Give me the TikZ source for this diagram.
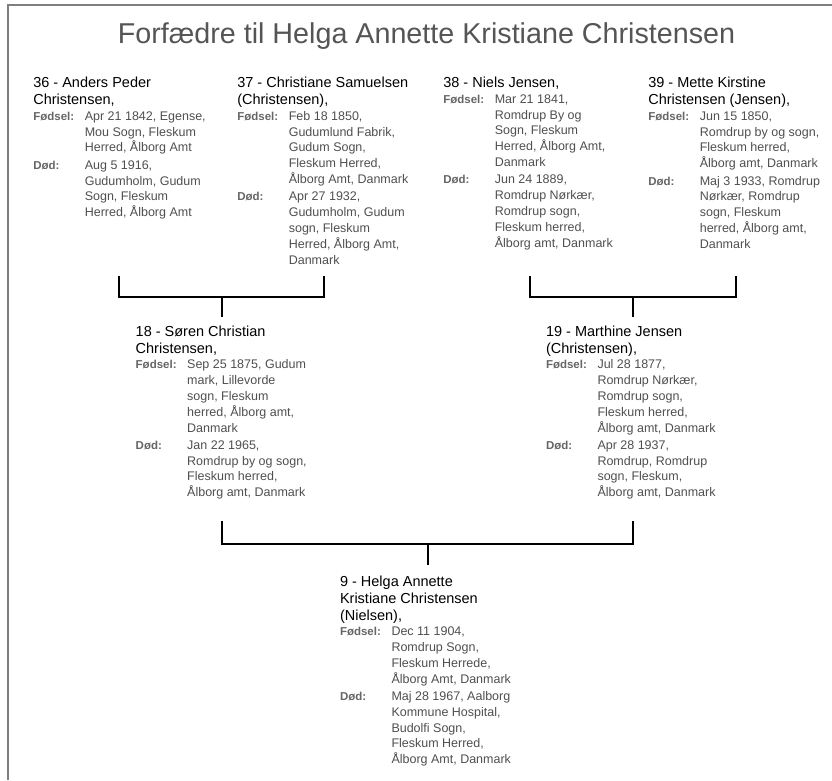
\documentclass[tikz,border=0pt]{standalone}
\usepackage{fontspec}
\setmainfont{Liberation Sans}
\definecolor{valgray}{HTML}{4F4F4F}
\definecolor{labgray}{HTML}{666666}
\definecolor{titlegray}{HTML}{555555}
\definecolor{framegray}{HTML}{7F7F7F}
\newcommand{\nm}[1]{\multicolumn{2}{@{}l@{}}{\fontsize{14.5}{15.8}\selectfont\color{black}#1}}
\newcommand{\lab}[1]{\makebox[51.5pt][l]{\fontsize{11.5}{15.8}\selectfont\bfseries\color{labgray}#1}}
\tikzset{
  person/.style={inner sep=0pt, outer sep=0pt, anchor=base west, text=valgray,
    font=\fontsize{12.5}{15.8}\selectfont},
  titletext/.style={inner sep=0pt, anchor=base, text=titlegray,
    font=\fontsize{28.7}{32}\selectfont},
  bracket/.style={line width=1.8pt, black},
  framerule/.style={line width=1.4pt, framegray}
}
\begin{document}
\begin{tikzpicture}[x=1pt,y=-1pt]
\useasboundingbox (0,0) rectangle (832,780);
% frame
\coordinate (fl) at (7.8,780);
\coordinate (fc) at (7.8,4.8);
\coordinate (fr) at (832,4.8);
\draw[framerule] (fl) -- (fc) -- (fr);
% title
\node[titletext] (title) at (426.5,43.5) {Forfædre til Helga Annette Kristiane Christensen};
% generation 3
\node[person] (p36) at (33.3,87.5) {\begin{tabular}[t]{@{}l@{}l@{}}
\nm{36 - Anders Peder}\\[1.2pt]
\nm{Christensen,}\\
\lab{Fødsel:} & Apr 21 1842, Egense,\\
 & Mou Sogn, Fleskum\\
 & Herred, Ålborg Amt\\[1.5pt]
\lab{Død:} & Aug 5 1916,\\
 & Gudumholm, Gudum\\
 & Sogn, Fleskum\\
 & Herred, Ålborg Amt
\end{tabular}};
\node[person] (p37) at (237.3,87.5) {\begin{tabular}[t]{@{}l@{}l@{}}
\nm{37 - Christiane Samuelsen}\\[1.2pt]
\nm{(Christensen),}\\
\lab{Fødsel:} & Feb 18 1850,\\
 & Gudumlund Fabrik,\\
 & Gudum Sogn,\\
 & Fleskum Herred,\\
 & Ålborg Amt, Danmark\\[1.5pt]
\lab{Død:} & Apr 27 1932,\\
 & Gudumholm, Gudum\\
 & sogn, Fleskum\\
 & Herred, Ålborg Amt,\\
 & Danmark
\end{tabular}};
\node[person] (p38) at (443.3,87.5) {\begin{tabular}[t]{@{}l@{}l@{}}
\nm{38 - Niels Jensen,}\\
\lab{Fødsel:} & Mar 21 1841,\\
 & Romdrup By og\\
 & Sogn, Fleskum\\
 & Herred, Ålborg Amt,\\
 & Danmark\\[1.5pt]
\lab{Død:} & Jun 24 1889,\\
 & Romdrup Nørkær,\\
 & Romdrup sogn,\\
 & Fleskum herred,\\
 & Ålborg amt, Danmark
\end{tabular}};
\node[person] (p39) at (648.3,87.5) {\begin{tabular}[t]{@{}l@{}l@{}}
\nm{39 - Mette Kirstine}\\[1.2pt]
\nm{Christensen (Jensen),}\\
\lab{Fødsel:} & Jun 15 1850,\\
 & Romdrup by og sogn,\\
 & Fleskum herred,\\
 & Ålborg amt, Danmark\\[1.5pt]
\lab{Død:} & Maj 3 1933, Romdrup\\
 & Nørkær, Romdrup\\
 & sogn, Fleskum\\
 & herred, Ålborg amt,\\
 & Danmark
\end{tabular}};
% generation 2
\node[person] (p18) at (135.7,336) {\begin{tabular}[t]{@{}l@{}l@{}}
\nm{18 - Søren Christian}\\[1.2pt]
\nm{Christensen,}\\
\lab{Fødsel:} & Sep 25 1875, Gudum\\
 & mark, Lillevorde\\
 & sogn, Fleskum\\
 & herred, Ålborg amt,\\
 & Danmark\\[1.5pt]
\lab{Død:} & Jan 22 1965,\\
 & Romdrup by og sogn,\\
 & Fleskum herred,\\
 & Ålborg amt, Danmark
\end{tabular}};
\node[person] (p19) at (546,336) {\begin{tabular}[t]{@{}l@{}l@{}}
\nm{19 - Marthine Jensen}\\[1.2pt]
\nm{(Christensen),}\\
\lab{Fødsel:} & Jul 28 1877,\\
 & Romdrup Nørkær,\\
 & Romdrup sogn,\\
 & Fleskum herred,\\
 & Ålborg amt, Danmark\\[1.5pt]
\lab{Død:} & Apr 28 1937,\\
 & Romdrup, Romdrup\\
 & sogn, Fleskum,\\
 & Ålborg amt, Danmark
\end{tabular}};
% generation 1
\node[person] (p9) at (340,586) {\begin{tabular}[t]{@{}l@{}l@{}}
\nm{9 - Helga Annette}\\[1.2pt]
\nm{Kristiane Christensen}\\[1.2pt]
\nm{(Nielsen),}\\
\lab{Fødsel:} & Dec 11 1904,\\
 & Romdrup Sogn,\\
 & Fleskum Herrede,\\
 & Ålborg Amt, Danmark\\[1.5pt]
\lab{Død:} & Maj 28 1967, Aalborg\\
 & Kommune Hospital,\\
 & Budolfi Sogn,\\
 & Fleskum Herred,\\
 & Ålborg Amt, Danmark
\end{tabular}};
% connector points
\coordinate (a36) at (119,276);
\coordinate (a37) at (324,276);
\coordinate (j18) at (222,297);
\coordinate (t18) at (222,317);
\coordinate (a38) at (530,276);
\coordinate (a39) at (736,276);
\coordinate (j19) at (633,297);
\coordinate (t19) at (633,317);
\coordinate (a18) at (222,521);
\coordinate (a19) at (633,521);
\coordinate (j9) at (428,544);
\coordinate (t9) at (428,565);
% brackets
\draw[bracket] (a36) |- (j18) -| (a37);
\draw[bracket] (j18) -- (t18);
\draw[bracket] (a38) |- (j19) -| (a39);
\draw[bracket] (j19) -- (t19);
\draw[bracket] (a18) |- (j9) -| (a19);
\draw[bracket] (j9) -- (t9);
\end{tikzpicture}
\end{document}
